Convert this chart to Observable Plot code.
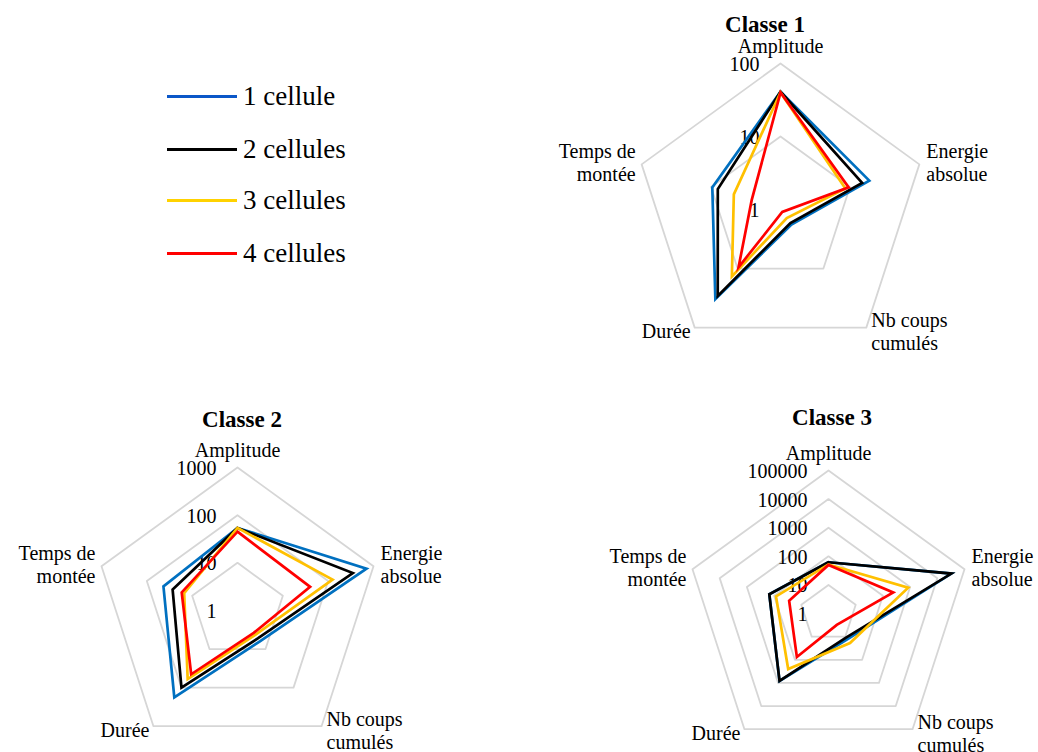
<!DOCTYPE html>
<html>
<head>
<meta charset="utf-8">
<script src="https://cdn.jsdelivr.net/npm/d3@7"></script>
<script src="https://cdn.jsdelivr.net/npm/@observablehq/plot@0.6"></script>
<style>
  html, body { margin: 0; padding: 0; background: #fff; }
  body { width: 1038px; height: 752px; overflow: hidden; position: relative;
         font-family: "Liberation Serif", "Times New Roman", serif; color: #000; }
  .chart { position: absolute; width: 460px; height: 340px; }
  .chart svg { max-width: none !important; width: 460px; height: 340px; display: block; }
  .title { position: absolute; font-family: "Liberation Serif", "Times New Roman", serif; font-weight: bold; font-size: 23px; transform: translate(-50%, -50%); white-space: nowrap; }
  .legend-row { position: absolute; display: flex; align-items: center; font-family: "Liberation Serif", "Times New Roman", serif; font-size: 27px; white-space: nowrap; }
  .legend-swatch { width: 70px; height: 3px; margin-right: 6px; }
</style>
</head>
<body>
<script>
// ---------- DATA ----------
const axisLabels = ["Amplitude", "Energie\nabsolue", "Nb coups\ncumulés", "Durée", "Temps de\nmontée"];
const seriesNames = ["1 cellule", "2 cellules", "3 cellules", "4 cellules"];

// Classe 1 (log scale 1 .. 100)
const classe1Ticks = [1, 10, 100];
const classe1Cellule1 = [41, 19, 1.8, 33, 9.6];
const classe1Cellule2 = [41, 15, 1.7, 29, 8];
const classe1Cellule3 = [40, 8.6, 1.4, 13.6, 4.7];
const classe1Cellule4 = [40, 9.6, 1.1, 9.5, 2.6];

// Classe 2 (log scale 1 .. 1000)
const classe2Ticks = [1, 10, 100, 1000];
const classe2Cellule1 = [54, 700, 6.3, 180, 43];
const classe2Cellule2 = [54, 350, 5.3, 100, 27];
const classe2Cellule3 = [54, 125, 4.3, 60, 15];
const classe2Cellule4 = [45, 40, 3.8, 45, 17];

// Classe 3 (log scale 1 .. 100000)
const classe3Ticks = [1, 10, 100, 1000, 10000, 100000];
const classe3Cellule1 = [62, 33000, 13, 820, 150];
const classe3Cellule2 = [62, 33000, 11, 820, 150];
const classe3Cellule3 = [52, 850, 19, 250, 85];
const classe3Cellule4 = [50, 240, 3.1, 76, 28];

// ---------- STYLES ----------
const seriesColors = ["#0070C0", "#000000", "#FFC000", "#FF0000"];
const legendColors = ["#0b57c8", "#000000", "#FFD200", "#FF0000"];
const gridColor = "#d6d6d6";
const FONT = "'Liberation Serif', 'Times New Roman', serif";

// label offsets (px) relative to the outer vertex of each axis
const labelPlacement = [
  {textAnchor: "middle", dx: 0, dy: -18},
  {textAnchor: "start", dx: 7, dy: -2},
  {textAnchor: "start", dx: 5, dy: 4},
  {textAnchor: "end", dx: -4, dy: 3},
  {textAnchor: "end", dx: -6, dy: -2}
];

const charts = [
  {title: "Classe 1", ticks: classe1Ticks, series: [classe1Cellule1, classe1Cellule2, classe1Cellule3, classe1Cellule4],
   left: 550, top: 9, titleX: 765, titleY: 25, R: 146},
  {title: "Classe 2", ticks: classe2Ticks, series: [classe2Cellule1, classe2Cellule2, classe2Cellule3, classe2Cellule4],
   left: 7, top: 410, titleX: 242, titleY: 420, R: 143},
  {title: "Classe 3", ticks: classe3Ticks, series: [classe3Cellule1, classe3Cellule2, classe3Cellule3, classe3Cellule4],
   left: 598, top: 413, titleX: 832, titleY: 418, R: 143}
];

const W = 460, H = 340, CX = 230, CY = 200;
const nAxes = axisLabels.length;
const angle = i => i * 2 * Math.PI / nAxes;

function radar(cfg) {
  const maxV = d3.max(cfg.ticks);
  const norm = v => Math.log10(v) / Math.log10(maxV);
  const grid = [];
  cfg.ticks.filter(t => t > 1).forEach(t => {
    for (let i = 0; i < nAxes; i++) {
      grid.push({ring: t, x: norm(t) * Math.sin(angle(i)), y: norm(t) * Math.cos(angle(i))});
    }
  });
  const rows = [];
  cfg.series.forEach((vals, s) => {
    vals.forEach((v, i) => {
      rows.push({series: seriesNames[s], axis: axisLabels[i], value: v,
                 x: norm(v) * Math.sin(angle(i)), y: norm(v) * Math.cos(angle(i))});
    });
  });
  const tickRows = cfg.ticks.map(t => ({label: String(t), y: norm(t)}));
  const labelMarks = axisLabels.map((lab, i) => Plot.text([lab], {
    x: () => Math.sin(angle(i)), y: () => Math.cos(angle(i)), text: d => d,
    textAnchor: labelPlacement[i].textAnchor, dx: labelPlacement[i].dx, dy: labelPlacement[i].dy,
    lineAnchor: "middle", lineHeight: 1.15, fontSize: 20, fill: "#000"
  }));
  const R = cfg.R;
  return Plot.plot({
    width: W, height: H, margin: 0,
    x: {domain: [-CX / R, (W - CX) / R], axis: null},
    y: {domain: [-(H - CY) / R, CY / R], axis: null},
    color: {domain: seriesNames, range: seriesColors},
    style: {fontFamily: FONT, fontSize: "20px", background: "transparent", overflow: "visible", color: "#000", maxWidth: "none"},
    marks: [
      Plot.line(grid, {x: "x", y: "y", z: "ring", curve: "linear-closed", stroke: gridColor, strokeWidth: 1.8}),
      Plot.text(tickRows, {x: () => 0, y: "y", text: "label", textAnchor: "end", dx: -21, dy: 1, fontSize: 20, fill: "#000"}),
      Plot.line(rows, {x: "x", y: "y", z: "series", stroke: "series", curve: "linear-closed",
                       strokeWidth: 2.7, strokeLinejoin: "miter", strokeMiterlimit: 10}),
      ...labelMarks
    ]
  });
}

charts.forEach(cfg => {
  const div = document.createElement("div");
  div.className = "chart";
  div.style.left = cfg.left + "px";
  div.style.top = cfg.top + "px";
  div.appendChild(radar(cfg));
  document.body.appendChild(div);
  const t = document.createElement("div");
  t.className = "title";
  t.textContent = cfg.title;
  t.style.left = cfg.titleX + "px";
  t.style.top = cfg.titleY + "px";
  document.body.appendChild(t);
});

// legend
const legendY = [96, 149, 200, 253];
seriesNames.forEach((name, i) => {
  const row = document.createElement("div");
  row.className = "legend-row";
  row.style.left = "167px";
  row.style.top = (legendY[i] - 17) + "px";
  row.style.height = "34px";
  const sw = document.createElement("div");
  sw.className = "legend-swatch";
  sw.style.background = legendColors[i];
  const tx = document.createElement("span");
  tx.textContent = name;
  row.appendChild(sw);
  row.appendChild(tx);
  document.body.appendChild(row);
});
</script>
</body>
</html>
